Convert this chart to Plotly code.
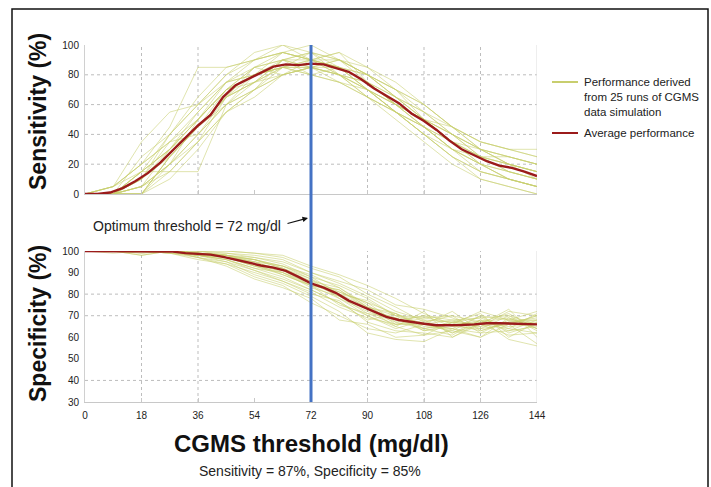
import plotly.graph_objects as go

# ── Données ───────────────────────────────────────────────────────────────────
X_RUNS = [0, 9, 18, 27, 36, 45, 54, 63, 72, 81, 90, 99, 108, 117, 126, 135, 144]

SENS_RUNS = [
    [0, 0, 15, 15, 15, 60, 80, 90, 90, 85, 80, 65, 50, 40, 25, 15, 10],
    [0, 0, 5, 30, 50, 70, 85, 95, 90, 95, 75, 60, 45, 30, 20, 15, 10],
    [0, 5, 20, 35, 55, 75, 80, 85, 95, 85, 70, 55, 40, 30, 20, 10, 5],
    [0, 0, 0, 20, 40, 65, 75, 80, 85, 80, 75, 65, 55, 40, 25, 20, 15],
    [0, 0, 10, 25, 45, 60, 70, 90, 85, 90, 80, 70, 50, 35, 30, 25, 20],
    [0, 0, 15, 40, 65, 85, 90, 95, 100, 90, 85, 70, 60, 45, 30, 20, 15],
    [0, 0, 0, 10, 30, 55, 70, 85, 80, 75, 70, 55, 40, 25, 10, 5, 0],
    [0, 5, 35, 55, 60, 80, 95, 100, 90, 85, 70, 60, 50, 40, 30, 25, 20],
    [0, 0, 5, 15, 35, 65, 80, 85, 90, 80, 65, 55, 45, 35, 20, 10, 5],
    [0, 0, 10, 30, 50, 75, 85, 80, 90, 95, 85, 75, 60, 45, 35, 30, 25],
    [0, 0, 0, 25, 45, 65, 75, 90, 85, 80, 75, 60, 45, 30, 20, 15, 10],
    [0, 0, 15, 30, 50, 70, 80, 95, 90, 85, 70, 55, 40, 25, 15, 10, 5],
    [0, 5, 20, 35, 40, 60, 70, 80, 85, 90, 80, 70, 55, 40, 30, 20, 15],
    [0, 0, 5, 20, 50, 70, 85, 90, 95, 80, 65, 50, 35, 20, 10, 5, 0],
    [0, 0, 10, 40, 60, 75, 80, 85, 80, 85, 75, 65, 55, 45, 35, 30, 30],
    [0, 0, 0, 15, 35, 55, 65, 80, 85, 75, 65, 55, 45, 35, 25, 15, 10],
    [0, 5, 20, 45, 85, 85, 90, 95, 90, 85, 80, 70, 60, 45, 30, 25, 20],
    [0, 0, 5, 20, 40, 60, 75, 85, 90, 80, 70, 60, 50, 35, 25, 20, 15],
    [0, 0, 15, 30, 45, 65, 85, 90, 95, 90, 80, 65, 50, 35, 20, 10, 5],
    [0, 0, 0, 25, 45, 70, 80, 85, 85, 85, 75, 60, 45, 30, 15, 10, 5],
    [0, 0, 10, 35, 50, 70, 75, 90, 80, 75, 65, 55, 45, 30, 25, 20, 15],
    [0, 5, 15, 30, 55, 75, 90, 100, 95, 90, 80, 65, 50, 40, 30, 20, 10],
    [0, 0, 5, 20, 35, 55, 70, 80, 85, 80, 70, 55, 40, 25, 15, 10, 5],
    [0, 0, 25, 40, 60, 80, 90, 95, 90, 90, 75, 60, 50, 35, 25, 25, 20],
    [0, 0, 0, 25, 45, 65, 75, 85, 85, 80, 70, 60, 50, 45, 35, 30, 25],
]

SPEC_RUNS = [
    [100, 100, 100, 100, 99, 98, 96, 93, 87, 78, 70, 65, 72, 60, 67, 71, 64],
    [100, 100, 100, 99, 97, 94, 88, 84, 76, 70, 64, 62, 66, 63, 70, 62, 66],
    [100, 100, 98, 100, 100, 100, 99, 97, 92, 88, 80, 74, 67, 70, 62, 68, 72],
    [100, 100, 100, 100, 97, 93, 87, 83, 78, 68, 66, 60, 61, 67, 66, 73, 60],
    [100, 100, 100, 100, 100, 99, 98, 96, 90, 86, 82, 75, 73, 69, 64, 66, 70],
    [100, 100, 100, 99, 98, 96, 92, 88, 82, 76, 68, 71, 64, 61, 68, 63, 65],
    [100, 100, 99, 100, 100, 100, 99, 98, 93, 89, 84, 78, 71, 66, 72, 68, 68],
    [100, 100, 100, 100, 98, 95, 89, 85, 79, 72, 62, 59, 58, 64, 60, 66, 57],
    [100, 100, 100, 100, 99, 97, 95, 91, 86, 83, 75, 66, 69, 67, 71, 60, 67],
    [100, 100, 100, 100, 98, 98, 94, 89, 84, 75, 71, 69, 63, 65, 64, 70, 63],
    [100, 99, 100, 100, 100, 98, 95, 93, 88, 80, 77, 70, 66, 72, 63, 67, 69],
    [100, 100, 100, 99, 96, 94, 90, 86, 80, 77, 67, 63, 62, 60, 66, 61, 62],
    [100, 100, 100, 100, 99, 97, 96, 92, 85, 82, 74, 68, 70, 68, 69, 64, 71],
    [100, 100, 100, 100, 98, 97, 93, 90, 83, 79, 73, 65, 61, 63, 60, 69, 64],
    [100, 100, 98, 100, 99, 99, 97, 95, 90, 85, 79, 72, 68, 67, 65, 72, 70],
    [100, 100, 100, 100, 98, 96, 91, 86, 81, 74, 69, 66, 67, 62, 68, 59, 56],
    [100, 100, 100, 100, 99, 98, 96, 92, 87, 81, 76, 71, 65, 64, 70, 68, 66],
    [100, 100, 100, 99, 98, 97, 93, 89, 84, 78, 72, 67, 64, 66, 63, 67, 68],
    [100, 100, 100, 100, 99, 98, 97, 94, 88, 84, 78, 70, 69, 70, 67, 65, 66],
    [100, 100, 100, 100, 97, 95, 91, 87, 82, 76, 70, 64, 68, 62, 66, 64, 62],
    [100, 100, 100, 100, 99, 97, 95, 90, 84, 82, 73, 69, 64, 67, 69, 70, 66],
    [100, 100, 100, 100, 98, 96, 92, 90, 85, 79, 71, 66, 66, 64, 62, 63, 68],
    [100, 100, 99, 100, 99, 98, 94, 92, 86, 80, 74, 70, 63, 66, 67, 69, 64],
    [100, 100, 100, 100, 99, 97, 93, 91, 84, 81, 76, 67, 70, 65, 68, 66, 70],
    [100, 100, 100, 100, 99, 98, 96, 93, 89, 83, 74, 71, 66, 68, 65, 67, 67],
]

X_AVG = list(range(0, 145, 4))
SENS_AVG = [0, 0, 1, 4, 8.5, 14, 21, 29.5, 38, 46, 53, 65, 73, 77, 81, 85.5, 87,
            86.5, 87.5, 87, 84.5, 82, 77, 71, 66, 61, 54, 49, 43, 36, 30, 26,
            22, 19, 17.5, 15, 12]
SPEC_AVG = [100, 100, 100, 100, 100, 100, 100, 99.7, 99, 98.7, 98.3, 97.3, 96,
            94.5, 93.3, 92.3, 90.8, 88, 85, 83, 80.5, 77, 74.5, 72, 69.5, 68,
            67, 66.3, 65.6, 65.5, 65.7, 66, 66.5, 66.5, 66.3, 66.2, 66]

OPTIMUM = 72
X_TICKS = [0, 18, 36, 54, 72, 90, 108, 126, 144]
SENS_TICKS = [0, 20, 40, 60, 80, 100]
SPEC_TICKS = [30, 40, 50, 60, 70, 80, 90, 100]
X_GRID = [18, 36, 90, 108, 126]
SENS_GRID = [20, 40, 60, 80]
SPEC_GRID = [40, 70, 80]

# ── Figure ────────────────────────────────────────────────────────────────────
W, H = 711, 487
RUN_C = "rgba(200,206,110,0.7)"
AVG_C = "#9b1b1b"
GRID_C = "#bdbdbd"
FONT = "Liberation Sans, Arial, sans-serif"


def px(x):
    return x / W


def py(y):
    return 1 - y / H


XDOM = [px(85), px(537)]
fig = go.Figure()

for xs, yaxis_runs, xa, ya in [
    (X_RUNS, SENS_RUNS, "x", "y"),
    (X_RUNS, SPEC_RUNS, "x2", "y2"),
]:
    for run in yaxis_runs:
        fig.add_trace(go.Scatter(
            x=xs, y=run, xaxis=xa, yaxis=ya, mode="lines",
            line=dict(color=RUN_C, width=0.8),
            hoverinfo="skip", showlegend=False,
        ))

fig.add_trace(go.Scatter(x=X_AVG, y=SENS_AVG, xaxis="x", yaxis="y",
                         mode="lines", line=dict(color=AVG_C, width=2.4),
                         showlegend=False))
fig.add_trace(go.Scatter(x=X_AVG, y=SPEC_AVG, xaxis="x2", yaxis="y2",
                         mode="lines", line=dict(color=AVG_C, width=2.4),
                         showlegend=False))

tick_font = dict(family=FONT, size=10, color="#222")
fig.update_layout(
    width=W, height=H,
    autosize=False,
    paper_bgcolor="white", plot_bgcolor="white",
    margin=dict(l=0, r=0, t=0, b=0, pad=0, autoexpand=False),
    showlegend=False,
    font=dict(family=FONT, color="#111"),
    xaxis=dict(domain=XDOM, range=[0, 144], anchor="y", tickvals=X_TICKS,
               showticklabels=False, showgrid=False, zeroline=False,
               showline=True, linecolor="#c8c8c8", linewidth=1,
               ticks="inside", ticklen=4, tickcolor="#c8c8c8",
               automargin=False),
    yaxis=dict(domain=[py(194), py(45)], range=[0, 100], anchor="x",
               tickvals=SENS_TICKS, tickfont=tick_font, showgrid=False,
               zeroline=False, showline=True, linecolor="#d0d0d0",
               ticklabelstandoff=3, automargin=False),
    xaxis2=dict(domain=XDOM, range=[0, 144], anchor="y2", tickvals=X_TICKS,
                tickfont=tick_font, showgrid=False, zeroline=False,
                showline=True, linecolor="#c8c8c8", linewidth=1,
                ticks="inside", ticklen=4, tickcolor="#c8c8c8",
                ticklabelstandoff=4, automargin=False),
    yaxis2=dict(domain=[py(402), py(251)], range=[30, 100], anchor="x2",
                tickvals=SPEC_TICKS, tickfont=tick_font, showgrid=False,
                zeroline=False, showline=True, linecolor="#d0d0d0",
                ticklabelstandoff=3, automargin=False),
)

# ── Grilles pointillées ──────────────────────────────────────────────────────
grid = dict(color=GRID_C, width=1, dash="3px,3px")
for xa, ya, y0, y1, ygrid in [("x", "y", 0, 100, SENS_GRID),
                              ("x2", "y2", 30, 100, SPEC_GRID)]:
    for gx in X_GRID:
        fig.add_shape(type="line", xref=xa, yref=ya, x0=gx, x1=gx, y0=y0, y1=y1,
                      line=grid, layer="below")
    for gy in ygrid:
        fig.add_shape(type="line", xref=xa, yref=ya, x0=0, x1=144, y0=gy, y1=gy,
                      line=grid, layer="below")
    fig.add_shape(type="line", xref=xa, yref=ya, x0=144, x1=144, y0=y0, y1=y1,
                  line=dict(color="#dcdcdc", width=1), layer="below")

# ── Seuil optimal ────────────────────────────────────────────────────────────
fig.add_shape(type="line", xref="x", yref="paper", x0=OPTIMUM, x1=OPTIMUM,
              y0=py(402), y1=py(45), line=dict(color="#4472c4", width=3))

fig.add_annotation(xref="paper", yref="paper", x=px(283), y=py(226),
                   text=f"Optimum threshold = {OPTIMUM} mg/dl", showarrow=False,
                   xanchor="right", yanchor="middle",
                   font=dict(size=14, color="#222"))
fig.add_annotation(xref="paper", yref="paper", x=px(308), y=py(218),
                   text="", showarrow=True, ax=-22, ay=6,
                   arrowhead=2, arrowsize=1, arrowwidth=1.1,
                   arrowcolor="#111", standoff=0)

# ── Titres ───────────────────────────────────────────────────────────────────
title_font = dict(size=23, color="#111", family=FONT)
fig.add_annotation(xref="paper", yref="paper", x=px(38), y=py(112),
                   text="<b>Sensitivity (%)</b>", textangle=-90,
                   xanchor="center", yanchor="middle",
                   showarrow=False, font=title_font)
fig.add_annotation(xref="paper", yref="paper", x=px(38), y=py(324),
                   text="<b>Specificity (%)</b>", textangle=-90,
                   xanchor="center", yanchor="middle",
                   showarrow=False, font=title_font)
fig.add_annotation(xref="paper", yref="paper", x=px(311), y=py(443),
                   text="<b>CGMS threshold (mg/dl)</b>", showarrow=False,
                   xanchor="center", yanchor="middle",
                   font=dict(size=24, color="#111", family=FONT))
fig.add_annotation(xref="paper", yref="paper", x=px(310), y=py(471),
                   text="Sensitivity = 87%, Specificity = 85%", showarrow=False,
                   xanchor="center", yanchor="middle",
                   font=dict(size=14, color="#222", family=FONT))

# ── Légende ──────────────────────────────────────────────────────────────────
leg_font = dict(size=11.5, color="#222", family=FONT)
fig.add_shape(type="line", xref="paper", yref="paper", x0=px(552), x1=px(578),
              y0=py(82), y1=py(82), line=dict(color="#c8ce6e", width=2))
fig.add_annotation(xref="paper", yref="paper", x=px(582), y=py(74),
                   text="Performance derived<br>from 25 runs of CGMS<br>data simulation",
                   showarrow=False, xanchor="left", yanchor="top", align="left",
                   font=leg_font)
fig.add_shape(type="line", xref="paper", yref="paper", x0=px(552), x1=px(578),
              y0=py(133), y1=py(133), line=dict(color=AVG_C, width=2))
fig.add_annotation(xref="paper", yref="paper", x=px(582), y=py(133),
                   text="Average performance", showarrow=False,
                   xanchor="left", yanchor="middle", font=leg_font)

# ── Cadre ────────────────────────────────────────────────────────────────────
fig.add_shape(type="rect", xref="paper", yref="paper", x0=px(12), x1=px(708),
              y0=py(495), y1=py(9), line=dict(color="#111", width=1.5))

fig.write_html("out.html", config={"displayModeBar": False},
               post_script="document.body.style.margin='0';")
